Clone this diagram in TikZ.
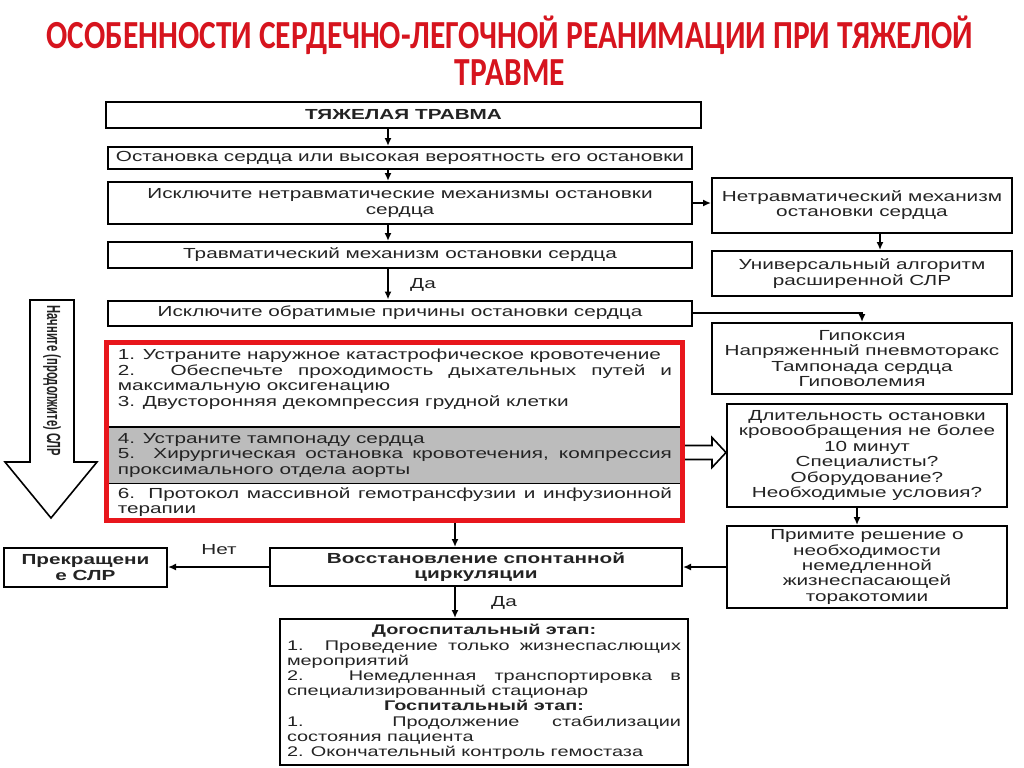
\documentclass[tikz,border=0pt]{standalone}
\usepackage{fontspec}
\setmainfont{Liberation Sans}[FakeStretch=1.42]
\newfontfamily\titlefont{Carlito}[FakeStretch=0.79]
\newfontfamily\narrowfont{Liberation Sans}[FakeStretch=0.59]
\usepackage{xcolor}
\usepackage{tikz}
\usetikzlibrary{positioning,arrows.meta,calc}
\definecolor{titlered}{RGB}{214,20,30}
\definecolor{framered}{RGB}{232,22,28}
\definecolor{bandgray}{RGB}{188,188,188}
\definecolor{ink}{RGB}{35,35,35}

\begin{document}
\begin{tikzpicture}[
  x=0.5pt, y=-0.5pt,
  >={Latex[length=4pt,width=3.5pt]},
  box/.style={draw, line width=1pt, inner sep=1pt, align=center, text=ink,
    font=\fontsize{7.3}{7.7}\selectfont},
  boldbox/.style={box, font=\fontsize{7.3}{7.7}\selectfont\bfseries},
  flow/.style={->, line width=0.8pt},
  lbl/.style={font=\fontsize{7.3}{7.7}\selectfont, text=ink},
  stepsec/.style={anchor=north west, text width=277pt, inner xsep=4.75pt,
    inner ysep=1.5pt, align=justify, text=ink, font=\fontsize{7.3}{7.7}\selectfont},
  hollow/.style={line width=0.8pt, fill=white},
]
\useasboundingbox (0,0) rectangle (1024,767);

% Title
\node[font=\titlefont\fontsize{19.9}{18.5}\selectfont\bfseries, text=titlered, align=center]
  (title) at (510,51) {ОСОБЕННОСТИ СЕРДЕЧНО-ЛЕГОЧНОЙ РЕАНИМАЦИИ ПРИ ТЯЖЕЛОЙ\\ТРАВМЕ};

% Main column
\node[boldbox, minimum width=297.5pt, minimum height=13pt] (trauma) at (403.5,115) {ТЯЖЕЛАЯ ТРАВМА};
\node[box, minimum width=292pt, minimum height=11pt] (arrest) at (400,158)
  {Остановка сердца или высокая вероятность его остановки};
\node[box, minimum width=292pt, minimum height=21pt] (exclude) at (400,203)
  {Исключите нетравматические механизмы остановки\\сердца};
\node[box, minimum width=292pt, minimum height=13pt] (traumatic) at (400,255)
  {Травматический механизм остановки сердца};
\node[box, minimum width=292pt, minimum height=12.5pt] (reversible) at (400,313)
  {Исключите обратимые причины остановки сердца};
\coordinate (ax) at (388,0);
\draw[flow] (trauma.south -| ax) -- (arrest.north -| ax);
\draw[flow] (arrest.south -| ax) -- (exclude.north -| ax);
\draw[flow] (exclude.south -| ax) -- (traumatic.north -| ax);
\draw[flow] (traumatic.south -| ax) -- (reversible.north -| ax);
\node[lbl] (yes1) at (423,285) {Да};

% Red frame with steps
\node[stepsec] (s1) at (108,346) {1. Устраните наружное катастрофическое кровотечение\par
  2. Обеспечьте проходимость дыхательных путей и\linebreak максимальную оксигенацию\par
  3. Двусторонняя декомпрессия грудной клетки};
\node[stepsec, fill=bandgray, minimum height=28pt] (s2) at (108,427) {4. Устраните тампонаду сердца\par
  5. Хирургическая остановка кровотечения, компрессия\linebreak проксимального отдела аорты};
\node[stepsec] (s3) at (108,484) {6. Протокол массивной гемотрансфузии и инфузионной\linebreak терапии};
\draw[line width=0.6pt] (s2.north west) -- (s2.north east);
\draw[line width=0.6pt] (s2.south west) -- (s2.south east);
\node[draw=framered, line width=2.5pt, minimum width=288pt, minimum height=89pt] (steps) at (394.5,431.5) {};

% Left arrow
\draw[hollow] (30,300) -- (74,300) -- (74,462) -- (97,462) -- (51,518) -- (5,462) -- (30,462) -- cycle;
\node[font=\narrowfont\fontsize{9.5}{10}\selectfont\bfseries, text=ink, rotate=-90] (restart) at (52,381)
  {Начните (продолжите) СЛР};

% Right column
\node[box, minimum width=150pt, minimum height=27.5pt] (nontr) at (862,205)
  {Нетравматический механизм\\остановки сердца};
\node[box, minimum width=150pt, minimum height=22.5pt] (univ) at (862,273.5)
  {Универсальный алгоритм\\расширенной СЛР};
\node[box, minimum width=150pt, minimum height=35.5pt] (causes) at (862,358.5)
  {Гипоксия\\Напряженный пневмоторакс\\Тампонада сердца\\Гиповолемия};
\node[box, minimum width=140pt, minimum height=51.5pt] (durat) at (867,455.5)
  {Длительность остановки\\кровообращения не более\\10 минут\\Специалисты?\\Оборудование?\\Необходимые условия?};
\node[box, minimum width=140pt, minimum height=41pt] (decide) at (867,567)
  {Примите решение о\\необходимости\\немедленной\\жизнеспасающей\\торакотомии};
\coordinate (rx) at (880,0);
\coordinate (dx) at (857,0);
\draw[flow] (exclude.east) -- (nontr.west |- exclude.east);
\draw[flow] (nontr.south -| rx) -- (univ.north -| rx);
\draw[flow] (reversible.east) -| (causes.north);
\draw[flow] (durat.south -| dx) -- (decide.north -| dx);

% Hollow double arrow
\coordinate (dtip) at ($(durat.west)+(0,-3)$);
\coordinate (dtail) at (steps.east |- dtip);
\draw[hollow] ($(dtail)+(0,-7)$) -- ($(dtip)+(-14,-7)$) -- ($(dtip)+(-14,-15)$) -- (dtip)
  -- ($(dtip)+(-14,15)$) -- ($(dtip)+(-14,7)$) -- ($(dtail)+(0,7)$);

% Bottom
\node[boldbox, minimum width=206pt, minimum height=19pt] (rosc) at (476,567)
  {Восстановление спонтанной\\циркуляции};
\node[boldbox, minimum width=81.5pt, minimum height=19.5pt] (stop) at (85.5,567.5)
  {Прекращени\\е СЛР};
\node[box, minimum width=204pt, minimum height=73pt, text width=197pt, inner xsep=3.5pt,
  align=justify, font=\fontsize{7.0}{7.6}\selectfont] (final) at (484,692)
  {{\centering\bfseries Догоспитальный этап:\par}
  1. Проведение только жизнеспаслющих\linebreak мероприятий\par
  2. Немедленная транспортировка в\linebreak специализированный стационар\par
  {\centering\bfseries Госпитальный этап:\par}
  1. Продолжение стабилизации\linebreak состояния пациента\par
  2. Окончательный контроль гемостаза};
\coordinate (bx) at (455,0);
\draw[flow] (steps.south -| bx) -- (rosc.north -| bx);
\draw[flow] (rosc.west) -- (stop.east |- rosc.west);
\node[lbl] (no) at (219,550) {Нет};
\draw[flow] (rosc.south -| bx) -- (final.north -| bx);
\node[lbl] (yes2) at (504,603) {Да};
\draw[flow] (decide.west) -- (rosc.east |- decide.west);

\end{tikzpicture}
\end{document}
